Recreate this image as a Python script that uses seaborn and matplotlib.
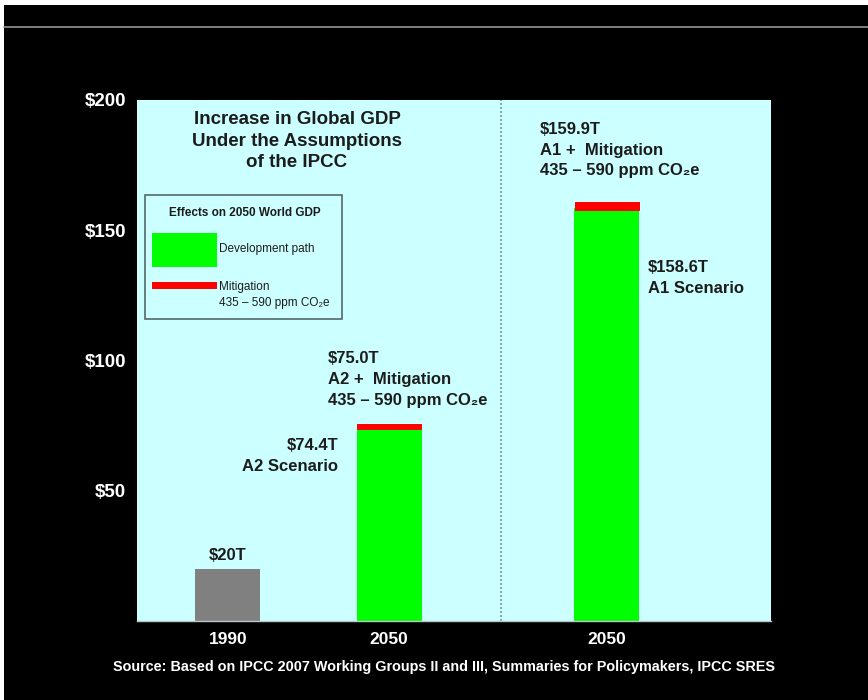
import numpy as np
import pandas as pd
import matplotlib
matplotlib.use("Agg")
import matplotlib.pyplot as plt
import seaborn as sns
from matplotlib.patches import Rectangle
from matplotlib.lines import Line2D

# ---------------- data ----------------
categories = ["1990", "2050", "2050"]
groups = ["1990", "A2", "A1"]
scenario_values = [20.0, 74.4, 158.6]          # development path (T$)
mitigation_values = [np.nan, 75.0, 159.9]      # with mitigation (T$)
bar_colors = ["#808080", "#00ff00", "#00ff00"]
ytick_values = [50, 100, 150, 200]
ytick_labels = ["$50", "$100", "$150", "$200"]
label_1990 = "$20T"
label_a2_mit = "$75.0T\nA2 +  Mitigation\n435 \u2013 590 ppm CO\u2082e"
label_a2 = "$74.4T\nA2 Scenario"
label_a1_mit = "$159.9T\nA1 +  Mitigation\n435 \u2013 590 ppm CO\u2082e"
label_a1 = "$158.6T\nA1 Scenario"
title_text = "Increase in Global GDP\nUnder the Assumptions\nof the IPCC"
legend_title = "Effects on 2050 World GDP"
legend_dev = "Development path"
legend_mit = "Mitigation\n435 \u2013 590 ppm CO\u2082e"
source_text = ("Source: Based on IPCC 2007 Working Groups II and III, "
               "Summaries for Policymakers, IPCC SRES")

# ---------------- layout ----------------
W, H = 868, 700
x_positions = [1.4, 3.88, 7.23]   # bar centres (axis units, 65 px each)
BAR_W = 1.0
XMAX = 634 / 65.0
SEP_X = 5.6

sns.set_style("white")
FAM = ["Liberation Sans", "DejaVu Sans"]
plt.rcParams["font.family"] = FAM

fig = plt.figure(figsize=(W / 100, H / 100), dpi=100, facecolor="black")

def fx(x):
    return x / W

def fy(y):
    return 1 - y / H

# decorative frame of the slide
fig.patches.append(Rectangle((0, fy(5)), 1, 5 / H, transform=fig.transFigure,
                             facecolor="white", edgecolor="none", zorder=0))
fig.patches.append(Rectangle((0, 0), 4 / W, 1, transform=fig.transFigure,
                             facecolor="white", edgecolor="none", zorder=0))
fig.lines.append(Line2D([fx(4), 1], [fy(27), fy(27)], transform=fig.transFigure,
                        color="#8a8a8a", lw=1.3))

ax = fig.add_axes([fx(137), fy(621), fx(771) - fx(137), fy(100) - fy(621)])
ax.set_facecolor("#ccffff")

df = pd.DataFrame({"pos": x_positions, "value": scenario_values, "group": groups})
native_unit = np.min(np.diff(sorted(x_positions)))
sns.barplot(data=df, x="pos", y="value", hue="group", hue_order=groups,
            palette=bar_colors, native_scale=True, width=BAR_W / native_unit,
            saturation=1, linewidth=0, legend=False, ax=ax, zorder=2)

# mitigation marks on top of the 2050 bars
mit_pos = [p for p, m in zip(x_positions, mitigation_values) if not np.isnan(m)]
mit_bottom = [s for s, m in zip(scenario_values, mitigation_values) if not np.isnan(m)]
mit_height = [m - s for s, m in zip(scenario_values, mitigation_values) if not np.isnan(m)]
ax.bar(mit_pos, mit_height, bottom=mit_bottom, width=BAR_W - 0.085,
       color="#ff0000", edgecolor="#ff0000", linewidth=3.6, zorder=3)

ax.axvline(SEP_X, color="#7896a4", lw=1.2, linestyle=(0, (1.2, 1.2)), zorder=1)

ax.set_xlim(0, XMAX)
ax.set_ylim(0, 200)
ax.set_yticks(ytick_values, ytick_labels)
ax.set_xticks(x_positions, categories)
ax.set_xlabel("")
ax.set_ylabel("")
ax.tick_params(axis="y", length=5, width=1, color="#9a9a9a", pad=3,
               labelcolor="white", labelsize=13.5)
ax.tick_params(axis="x", length=0, pad=8, labelcolor="white", labelsize=12.5)
for lab in ax.get_yticklabels() + ax.get_xticklabels():
    lab.set_fontweight("bold")
for side in ["top", "right", "left"]:
    ax.spines[side].set_visible(False)
ax.spines["bottom"].set_color("#b8c8c8")
ax.spines["bottom"].set_linewidth(1)

TXT = "#1c1c1c"

# title
fig.text(fx(297), fy(141), title_text, ha="center", va="center",
         multialignment="center", fontsize=13.5, fontweight="bold",
         color=TXT, linespacing=1.32)

# value annotations
fig.text(fx(228), fy(556), label_1990, ha="center", va="center",
         fontsize=12, fontweight="bold", color=TXT)
fig.text(fx(328), fy(380), label_a2_mit, ha="left", va="center",
         fontsize=12, fontweight="bold", color=TXT, linespacing=1.5)
fig.text(fx(338), fy(456), label_a2, ha="right", va="center",
         multialignment="right", fontsize=12, fontweight="bold",
         color=TXT, linespacing=1.5)
fig.text(fx(540), fy(150), label_a1_mit, ha="left", va="center",
         fontsize=12, fontweight="bold", color=TXT, linespacing=1.5)
fig.text(fx(648), fy(278), label_a1, ha="left", va="center",
         fontsize=12, fontweight="bold", color=TXT, linespacing=1.5)

# legend box (drawn by hand)
fig.patches.append(Rectangle((fx(145), fy(319)), fx(342) - fx(145), fy(195) - fy(319),
                             transform=fig.transFigure, facecolor="none",
                             edgecolor="#55696b", lw=1.2, zorder=5))
fig.text(fx(245), fy(213), legend_title, ha="center", va="center",
         fontsize=8.5, fontweight="bold", color=TXT)
fig.patches.append(Rectangle((fx(152), fy(267)), fx(217) - fx(152), fy(233) - fy(267),
                             transform=fig.transFigure, facecolor="#00ff00",
                             edgecolor="none", zorder=5))
fig.text(fx(219), fy(249), legend_dev, ha="left", va="center",
         fontsize=8.5, color=TXT)
fig.patches.append(Rectangle((fx(152), fy(289)), fx(217) - fx(152), 7 / H,
                             transform=fig.transFigure, facecolor="#ff0000",
                             edgecolor="none", zorder=5))
fig.text(fx(219), fy(295), legend_mit, ha="left", va="center",
         fontsize=8.5, color=TXT, linespacing=1.35)

# source line
fig.text(fx(444), fy(667), source_text, ha="center", va="center",
         fontsize=10.4, fontweight="bold", color="white")

fig.savefig("out.png", dpi=100, facecolor="black")
